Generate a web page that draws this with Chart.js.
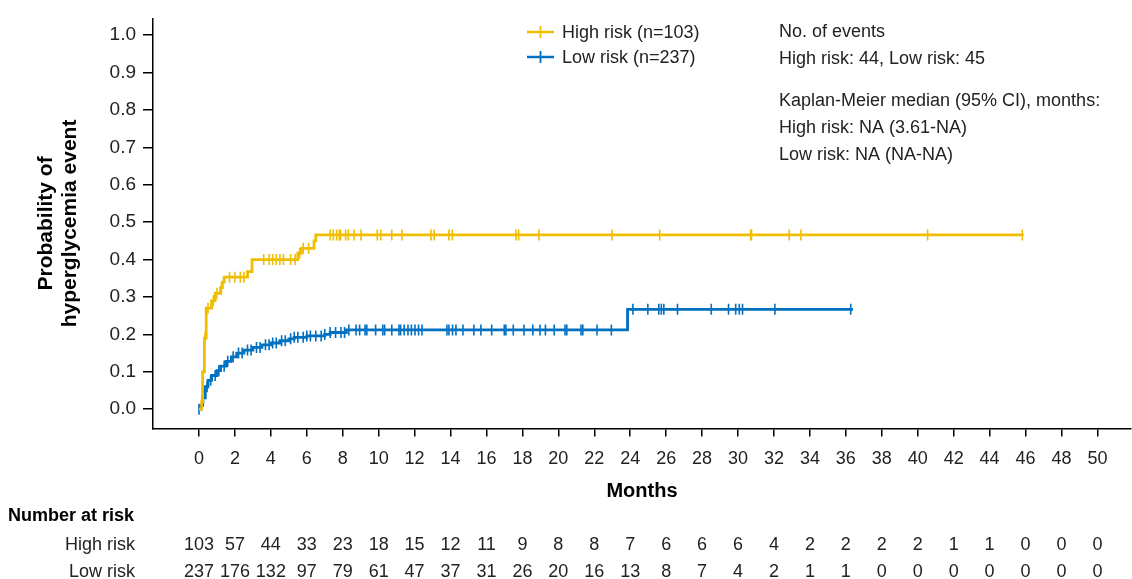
<!DOCTYPE html>
<html>
<head>
<meta charset="utf-8">
<script src="https://cdn.jsdelivr.net/npm/chart.js@4.4.1/dist/chart.umd.min.js"></script>
<style>
  html, body { margin: 0; padding: 0; background: #fff; }
  #wrap { width: 1132px; height: 579px; }
</style>
</head>
<body>
<div id="wrap"><canvas id="kmChart" width="1132" height="579"></canvas></div>
<script>
// Kaplan-Meier step points (month, cumulative probability)
const highStepMonths = [0, 0.15, 0.2, 0.3, 0.4, 0.7, 0.9, 1.2, 1.3, 1.4, 2.7, 2.95, 5.5, 5.7, 6.4, 6.5, 45.9];
const highStepProb   = [0, 0.02, 0.10, 0.19, 0.27, 0.29, 0.31, 0.325, 0.34, 0.353, 0.368, 0.40, 0.417, 0.43, 0.45, 0.466, 0.466];

const lowStepMonths = [0, 0.1, 0.2, 0.35, 0.5, 0.7, 1.0, 1.2, 1.5, 1.8, 2.1, 2.5, 3.0, 3.5, 4.0, 4.5, 5.0, 5.3, 6.0, 7.0, 7.3, 8.2, 23.85, 36.4];
const lowStepProb   = [0, 0.01, 0.03, 0.06, 0.077, 0.09, 0.103, 0.115, 0.128, 0.14, 0.15, 0.158, 0.165, 0.172, 0.177, 0.183, 0.188, 0.192, 0.196, 0.2, 0.205, 0.212, 0.267, 0.267];

// censored observations (months)
const highCensorMonths = [0.33, 0.5, 0.8, 1.0, 1.25, 1.7, 2.0, 2.3, 2.5, 3.6, 3.9, 4.1, 4.3, 4.5, 4.7, 5.1, 5.35,
  5.6, 5.8, 6.1, 7.3, 7.47, 7.66, 7.81, 7.88, 8.16, 8.31, 8.63, 9.02, 9.92, 10.11, 10.73, 11.3, 12.91, 13.09,
  13.91, 14.1, 17.64, 17.79, 18.92, 22.98, 25.64, 30.7, 30.75, 32.85, 33.5, 40.55, 45.82];
const lowCensorMonths = [0.0, 0.25, 0.45, 0.65, 0.9, 1.1, 1.4, 1.6, 1.9, 2.2, 2.4, 2.7, 2.9, 3.2, 3.4, 3.7, 3.9,
  4.1, 4.3, 4.6, 4.8, 5.1, 5.3, 5.5, 5.8, 6.0, 6.2, 6.5, 6.8, 7.0, 7.3, 7.6, 7.9, 8.1, 8.34, 8.74, 8.94, 9.24,
  9.34, 9.83, 10.23, 10.33, 10.73, 11.13, 11.22, 11.42, 11.63, 11.82, 12.02, 12.22, 12.41, 13.8, 13.91, 14.11,
  14.3, 14.69, 15.3, 15.69, 16.29, 16.99, 17.08, 17.49, 18.09, 18.58, 18.98, 19.28, 19.77, 20.37, 20.47, 21.26,
  21.36, 22.15, 22.95, 24.15, 24.98, 25.59, 25.73, 25.87, 26.63, 28.51, 29.47, 29.87, 30.07, 30.25, 32.05, 36.27];

// axis ticks
const monthTicks = [0, 2, 4, 6, 8, 10, 12, 14, 16, 18, 20, 22, 24, 26, 28, 30, 32, 34, 36, 38, 40, 42, 44, 46, 48, 50];
const probTicks = [0, 0.1, 0.2, 0.3, 0.4, 0.5, 0.6, 0.7, 0.8, 0.9, 1.0];

// number at risk, one per month tick
const highAtRisk = [103, 57, 44, 33, 23, 18, 15, 12, 11, 9, 8, 8, 7, 6, 6, 6, 4, 2, 2, 2, 2, 1, 1, 0, 0, 0];
const lowAtRisk  = [237, 176, 132, 97, 79, 61, 47, 37, 31, 26, 20, 16, 13, 8, 7, 4, 2, 1, 1, 0, 0, 0, 0, 0, 0, 0];

const groupLabels = ['High risk (n=103)', 'Low risk (n=237)'];
const infoLines = [
  'No. of events',
  'High risk: 44, Low risk: 45',
  'Kaplan-Meier median (95% CI), months:',
  'High risk: NA (3.61-NA)',
  'Low risk: NA (NA-NA)'
];

const YELLOW = '#F0BE00';
const BLUE = '#0070C0';
const FONT = "'Liberation Sans', Arial, sans-serif";

function probAt(months, probs, t) {
  let v = probs[0];
  for (let i = 0; i < months.length; i++) {
    if (months[i] <= t) v = probs[i];
  }
  return v;
}

function stepData(months, probs) {
  return months.map((m, i) => ({ x: m, y: probs[i] }));
}

function censorData(censors, months, probs) {
  return censors.map(m => ({ x: m, y: probAt(months, probs, m) }));
}

const extrasPlugin = {
  id: 'extras',
  afterDraw(chart) {
    const ctx = chart.ctx;
    const xScale = chart.scales.x;
    ctx.save();

    // legend
    const legendColors = [YELLOW, BLUE];
    const legendY = [32, 57];
    ctx.font = '18px ' + FONT;
    ctx.textBaseline = 'middle';
    ctx.textAlign = 'left';
    legendColors.forEach((c, i) => {
      ctx.strokeStyle = c;
      ctx.lineWidth = 2.5;
      ctx.beginPath();
      ctx.moveTo(527, legendY[i]);
      ctx.lineTo(554, legendY[i]);
      ctx.stroke();
      ctx.lineWidth = 1.8;
      ctx.beginPath();
      ctx.moveTo(540.5, legendY[i] - 6);
      ctx.lineTo(540.5, legendY[i] + 6);
      ctx.stroke();
      ctx.fillStyle = '#222';
      ctx.fillText(groupLabels[i], 562, legendY[i] + 1);
    });

    // events / median text
    const infoY = [32, 59, 101, 128, 155];
    infoLines.forEach((t, i) => ctx.fillText(t, 779, infoY[i]));

    // number at risk table
    ctx.fillStyle = '#000';
    ctx.font = 'bold 18px ' + FONT;
    ctx.fillText('Number at risk', 8, 516);
    ctx.font = '18px ' + FONT;
    ctx.fillStyle = '#222';
    ctx.textAlign = 'right';
    ctx.fillText('High risk', 135, 545);
    ctx.fillText('Low risk', 135, 572);
    ctx.textAlign = 'center';
    monthTicks.forEach((m, i) => {
      const px = xScale.getPixelForValue(m);
      ctx.fillText(String(highAtRisk[i]), px, 545);
      ctx.fillText(String(lowAtRisk[i]), px, 572);
    });
    ctx.restore();
  }
};

const ctx = document.getElementById('kmChart').getContext('2d');
new Chart(ctx, {
  type: 'line',
  data: {
    datasets: [{
      label: 'High risk',
      data: stepData(highStepMonths, highStepProb),
      stepped: true,
      borderColor: YELLOW,
      borderWidth: 2.8,
      pointRadius: 0,
      fill: false
    }, {
      label: 'Low risk',
      data: stepData(lowStepMonths, lowStepProb),
      stepped: true,
      borderColor: BLUE,
      borderWidth: 2.8,
      pointRadius: 0,
      fill: false
    }, {
      label: 'High risk censored',
      data: censorData(highCensorMonths, highStepMonths, highStepProb),
      showLine: false,
      pointStyle: 'line',
      rotation: 90,
      pointRadius: 5.5,
      pointBorderWidth: 1.6,
      borderColor: YELLOW,
      backgroundColor: YELLOW
    }, {
      label: 'Low risk censored',
      data: censorData(lowCensorMonths, lowStepMonths, lowStepProb),
      showLine: false,
      pointStyle: 'line',
      rotation: 90,
      pointRadius: 5.5,
      pointBorderWidth: 1.6,
      borderColor: BLUE,
      backgroundColor: BLUE
    }]
  },
  options: {
    responsive: false,
    animation: false,
    layout: { autoPadding: false, padding: { left: 0, top: 15, right: 1, bottom: 74 } },
    plugins: {
      legend: { display: false },
      tooltip: { enabled: false }
    },
    scales: {
      x: {
        type: 'linear',
        min: -2.56,
        max: 51.87,
        afterBuildTicks: scale => { scale.ticks = monthTicks.map(v => ({ value: v })); },
        afterFit: scale => { scale.height = 76.5; },
        ticks: { color: '#222', font: { size: 18, family: FONT }, padding: 12, maxRotation: 0, autoSkip: false },
        grid: { drawOnChartArea: false, drawTicks: true, tickLength: 8, color: '#000', lineWidth: 1.5 },
        border: { color: '#000', width: 1.5 },
        title: {
          display: true,
          text: 'Months',
          color: '#000',
          font: { size: 20, weight: 'bold', family: FONT },
          padding: { top: 0, bottom: 2 }
        }
      },
      y: {
        type: 'linear',
        min: -0.0517,
        max: 1.045,
        afterBuildTicks: scale => { scale.ticks = probTicks.map(v => ({ value: v })); },
        afterFit: scale => { scale.width = 153; },
        ticks: { color: '#222', font: { size: 19, family: FONT }, padding: 7, callback: v => v.toFixed(1) },
        grid: { drawOnChartArea: false, drawTicks: true, tickLength: 10, color: '#000', lineWidth: 1.5 },
        border: { color: '#000', width: 1.5 },
        title: {
          display: true,
          text: ['Probability of', 'hyperglycemia event'],
          color: '#000',
          font: { size: 21, weight: 'bold', family: FONT, lineHeight: 1.15 },
          padding: { top: 34, bottom: 0 }
        }
      }
    }
  },
  plugins: [extrasPlugin]
});
</script>
</body>
</html>
